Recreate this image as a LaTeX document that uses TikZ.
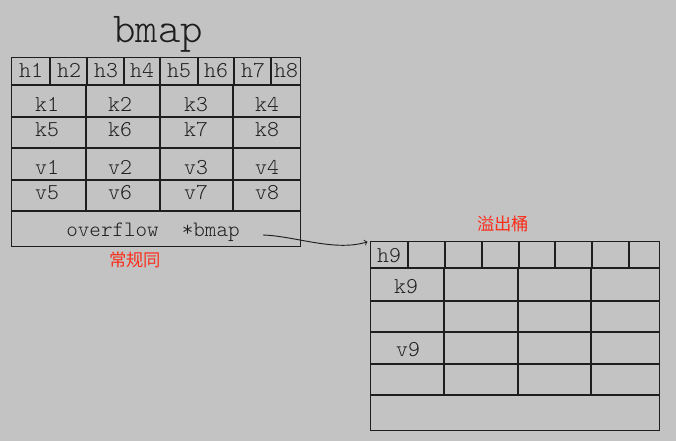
\documentclass[tikz,border=0pt]{standalone}
\usepackage{fontspec}
\newfontfamily\cjk{Noto Sans CJK SC}
\newfontfamily\lightmono{lmmonolt10-regular.otf}
\definecolor{paper}{RGB}{195,195,195}
\definecolor{ink}{RGB}{30,30,30}
\definecolor{notered}{RGB}{250,45,25}
\begin{document}
\begin{tikzpicture}[x=0.75pt,y=-0.75pt,line width=0.8pt,
  tbl/.style={draw=ink,minimum width=217pt,minimum height=141.75pt,anchor=north west,inner sep=0pt},
  cell/.style={anchor=base,inner sep=0pt,text=ink,font=\lightmono\fontsize{17pt}{17pt}\selectfont},
  title/.style={cell,font=\lightmono\fontsize{32pt}{32pt}\selectfont},
  ovtext/.style={cell,font=\lightmono\fontsize{16.5pt}{16.5pt}\selectfont},
  note/.style={text=notered,inner sep=0pt,font=\cjk\fontsize{13pt}{13pt}\selectfont}]
  \fill[paper] (0,0) rectangle (676,441);
  \useasboundingbox (0,0) rectangle (676,441);
  \node[tbl] (bmapbox) at (11,57) {};
  \node[tbl] (ovbox) at (370,241) {};
  \foreach \y in {85,117,148,180,211} \draw[ink] (11,\y) -- (301,\y);
  \foreach \x in {50,87,124,160,198,234,271} \draw[ink] (\x,57) -- (\x,85);
  \foreach \x in {86,160,233} \draw[ink] (\x,85) -- (\x,211);
  \foreach \y in {268,301,332,364,395} \draw[ink] (370,\y) -- (659,\y);
  \foreach \x in {408,445,482,519,555,592,629} \draw[ink] (\x,241) -- (\x,268);
  \foreach \x in {444,518,591} \draw[ink] (\x,268) -- (\x,395);
  \node[title] (bmap) at (158,43) {bmap};
  \foreach \x [count=\i] in {31,69,106,142,179,216,253,286} \node[cell] (h\i) at (\x,78) {h\i};
  \foreach \x [count=\i] in {47,120,196,267} {
    \pgfmathtruncatemacro\j{\i+4}
    \node[cell] (k\i) at (\x,112) {k\i};
    \node[cell] (k\j) at (\x,137) {k\j};
    \node[cell] (v\i) at (\x,175) {v\i};
    \node[cell] (v\j) at (\x,200) {v\j};
  }
  \node[ovtext] (ovf) at (153,237) {overflow~~*bmap};
  \node[note] (normlbl) at (135,260) {常规同};
  \node[note] (ovlbl) at (503,224) {溢出桶};
  \node[cell] (h9) at (389,263) {h9};
  \node[cell] (k9) at (406,294) {k9};
  \node[cell] (v9) at (408,357) {v9};
  \coordinate (src) at (263,235);
  \draw[ink,->,line width=0.7pt,shorten >=2pt] (src) .. controls (295,236) and (335,252) .. (ovbox.north west);
\end{tikzpicture}
\end{document}
